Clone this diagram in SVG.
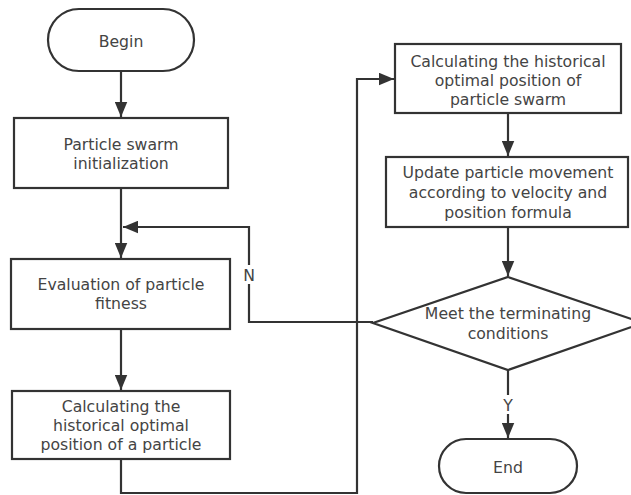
<svg xmlns="http://www.w3.org/2000/svg" width="631" height="495" viewBox="0 0 631 495">
<defs>
<style>
.n{fill:#fff;stroke:#333;stroke-width:2.2}
.t{font-family:"DejaVu Sans","Noto Sans",sans-serif;font-size:15.7px;fill:#444;text-anchor:middle}
.c{fill:none;stroke:#333;stroke-width:2.2}
</style>
<marker id="ah" viewBox="0 0 12 10" refX="12" refY="5" markerWidth="15" markerHeight="13" markerUnits="userSpaceOnUse" orient="auto"><path d="M0,0 L12,5 L0,10 z" fill="#333"/></marker>
</defs>
<rect width="631" height="495" fill="#fff"/>
<g id="connectors">
<path class="c" d="M121,71 V117" marker-end="url(#ah)"/>
<path class="c" d="M121,188 V258" marker-end="url(#ah)"/>
<path class="c" d="M373,322 H249 V227 H123" marker-end="url(#ah)"/>
<path class="c" d="M121,329 V390" marker-end="url(#ah)"/>
<path class="c" d="M121,459 V493 H357 V79 H394" marker-end="url(#ah)"/>
<path class="c" d="M508,113 V156" marker-end="url(#ah)"/>
<path class="c" d="M508,227 V276" marker-end="url(#ah)"/>
<path class="c" d="M508,370 V438" marker-end="url(#ah)"/>
<rect x="240" y="265" width="18" height="19" fill="#fff"/>
<text class="t" x="249" y="281">N</text>
<rect x="499" y="395" width="18" height="19" fill="#fff"/>
<text class="t" x="508" y="411">Y</text>
</g>
<g id="begin">
<rect class="n" x="48" y="9" width="146" height="62" rx="31"/>
<text class="t" x="121" y="47">Begin</text>
</g>
<g id="init">
<rect class="n" x="14" y="118" width="214" height="70"/>
<text class="t" x="121" y="150">Particle swarm</text>
<text class="t" x="121" y="169">initialization</text>
</g>
<g id="eval">
<rect class="n" x="11" y="259" width="219" height="70"/>
<text class="t" x="121" y="290">Evaluation of particle</text>
<text class="t" x="121" y="309">fitness</text>
</g>
<g id="pbest">
<rect class="n" x="12" y="391" width="218" height="68"/>
<text class="t" x="121" y="412">Calculating the</text>
<text class="t" x="121" y="431">historical optimal</text>
<text class="t" x="121" y="450">position of a particle</text>
</g>
<g id="gbest">
<rect class="n" x="395" y="44" width="226" height="69"/>
<text class="t" x="508" y="67">Calculating the historical</text>
<text class="t" x="508" y="86">optimal position of</text>
<text class="t" x="508" y="105">particle swarm</text>
</g>
<g id="update">
<rect class="n" x="386" y="157" width="242" height="70"/>
<text class="t" x="508" y="178">Update particle movement</text>
<text class="t" x="508" y="198">according to velocity and</text>
<text class="t" x="508" y="218">position formula</text>
</g>
<g id="decision">
<polygon class="n" points="508,277 643,323 508,370 373,323"/>
<text class="t" x="508" y="319">Meet the terminating</text>
<text class="t" x="508" y="339">conditions</text>
</g>
<g id="end">
<rect class="n" x="439" y="439" width="138" height="54" rx="27"/>
<text class="t" x="508" y="473">End</text>
</g>
</svg>
